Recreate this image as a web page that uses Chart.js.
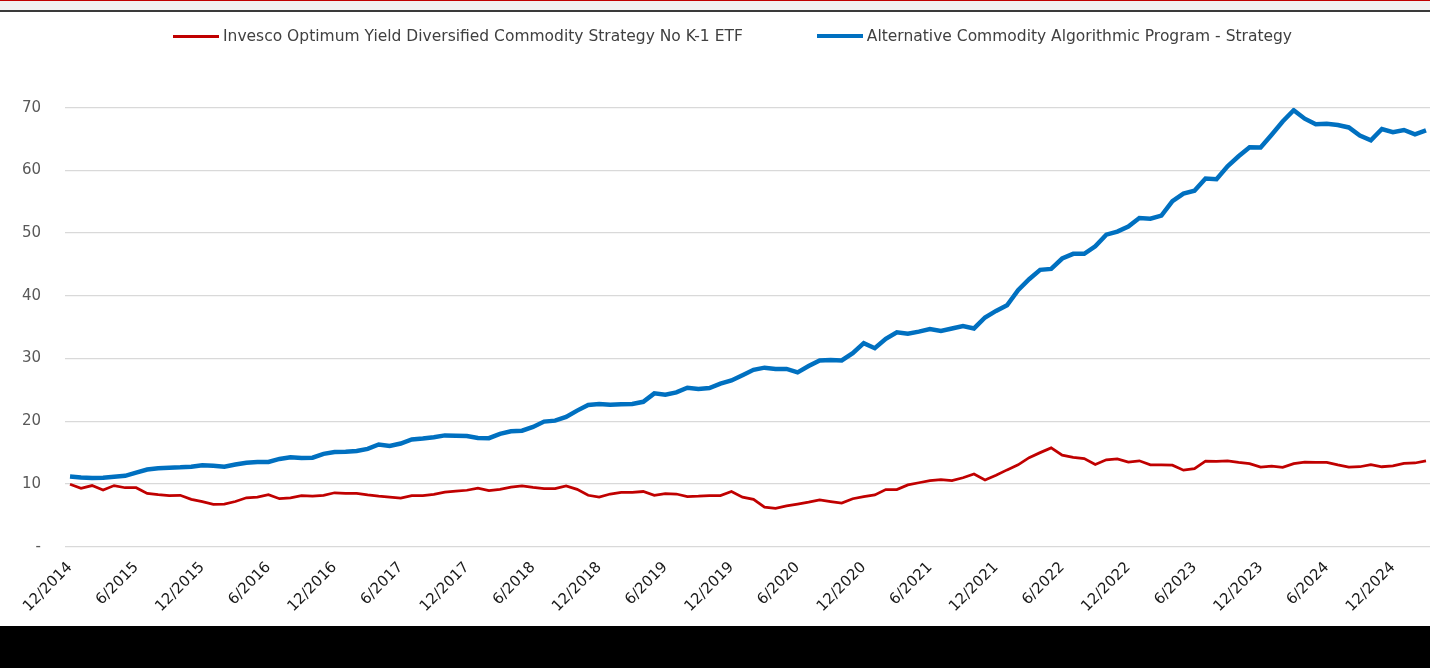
<!DOCTYPE html>
<html>
<head>
<meta charset="utf-8">
<title>Commodity strategy vs ETF</title>
<script src="https://cdn.jsdelivr.net/npm/chart.js@4.4.1/dist/chart.umd.min.js"></script>
<style>
html, body { margin: 0; padding: 0; background: #000; }
#page { position: relative; width: 1430px; height: 626px; background: #fff; overflow: hidden; }
#topbar { position: absolute; left: 0; top: 0; width: 1430px; height: 12px; box-sizing: border-box;
  background: #f0f0f0; border-top: 1px solid #c00000; border-bottom: 2px solid #3a3a3a; z-index: 2; }
#wrap { position: absolute; left: 0; top: 0; width: 1440px; height: 626px; }
#legend { position: absolute; left: 173px; top: 26px; height: 20px; display: flex; align-items: center;
  font: 15.5px "DejaVu Sans", sans-serif; color: #404040; z-index: 2; }
.item { display: flex; align-items: center; margin-right: 74px; white-space: nowrap; }
.swatch { display: inline-block; width: 46px; height: 0; margin-right: 4px; }
</style>
</head>
<body>
<div id="page">
  <div id="topbar"></div>
  <div id="legend"></div>
  <div id="wrap"><canvas id="chart"></canvas></div>
</div>
<script>
// month-end labels, 12/2014 .. 3/2025
var START_YEAR = 2014;
var START_MONTH = 12;
var MONTH_COUNT = 124;
var months = [];
for (var k = 0; k < MONTH_COUNT; k++) {
    var m = (START_MONTH - 1 + k) % 12 + 1;
    var y = START_YEAR + Math.floor((START_MONTH - 1 + k) / 12);
    months.push(m + "/" + y);
}

var etfName = "Invesco Optimum Yield Diversified Commodity Strategy No K-1 ETF";
var strategyName = "Alternative Commodity Algorithmic Program - Strategy";

var etfValues = [
    9.95, 9.3, 9.75, 9.05, 9.75, 9.4, 9.4, 8.5, 8.3, 8.15, 8.2, 7.55,
    7.2, 6.75, 6.8, 7.2, 7.8, 7.9, 8.3, 7.65, 7.8, 8.15, 8.05, 8.2,
    8.6, 8.5, 8.5, 8.25, 8.05, 7.9, 7.75, 8.15, 8.15, 8.35, 8.7, 8.85,
    9.0, 9.35, 8.95, 9.15, 9.5, 9.7, 9.45, 9.25, 9.25, 9.7, 9.15, 8.2,
    7.9, 8.4, 8.65, 8.65, 8.8, 8.2, 8.45, 8.4, 8.0, 8.05, 8.15, 8.15,
    8.8, 7.9, 7.55, 6.3, 6.1, 6.5, 6.8, 7.1, 7.45, 7.2, 6.95, 7.65,
    8.0, 8.25, 9.1, 9.1, 9.85, 10.2, 10.55, 10.7, 10.55, 11.0, 11.6, 10.65,
    11.4, 12.25, 13.05, 14.2, 15.0, 15.75, 14.6, 14.25, 14.05, 13.1, 13.85, 14.0,
    13.5, 13.7, 13.05, 13.05, 13.0, 12.2, 12.45, 13.65, 13.6, 13.7, 13.45, 13.25,
    12.7, 12.85, 12.65, 13.25, 13.5, 13.45, 13.45, 13.05, 12.7, 12.75, 13.1, 12.75,
    12.9, 13.3, 13.35, 13.7
];

var strategyValues = [
    11.2, 11.05, 10.95, 11.0, 11.15, 11.3, 11.8, 12.3, 12.5, 12.6, 12.65, 12.75,
    13.0, 12.9, 12.75, 13.1, 13.4, 13.5, 13.5, 14.0, 14.25, 14.15, 14.2, 14.8,
    15.1, 15.15, 15.25, 15.6, 16.3, 16.05, 16.45, 17.1, 17.25, 17.45, 17.75, 17.7,
    17.65, 17.35, 17.3, 18.0, 18.4, 18.5, 19.1, 19.95, 20.1, 20.7, 21.7, 22.6,
    22.75, 22.65, 22.7, 22.75, 23.1, 24.45, 24.25, 24.6, 25.35, 25.15, 25.3, 26.0,
    26.5, 27.35, 28.2, 28.55, 28.35, 28.35, 27.8, 28.8, 29.7, 29.75, 29.7, 30.85,
    32.45, 31.65, 33.15, 34.2, 33.95, 34.3, 34.7, 34.4, 34.8, 35.2, 34.8, 36.55,
    37.6, 38.5, 40.9, 42.65, 44.15, 44.3, 45.95, 46.7, 46.7, 47.9, 49.75, 50.25,
    51.05, 52.4, 52.3, 52.8, 55.1, 56.3, 56.75, 58.7, 58.6, 60.65, 62.25, 63.7,
    63.65, 65.7, 67.8, 69.6, 68.25, 67.35, 67.45, 67.25, 66.85, 65.55, 64.8, 66.6,
    66.1, 66.45, 65.75, 66.4
];

var Y_MIN = 0;
var Y_MAX = 70;
var Y_STEP = 10;
var LABEL_EVERY = 6;

function buildLegend(chart) {
    var box = document.getElementById("legend");
    box.textContent = "";
    chart.data.datasets.forEach(function (ds) {
        var item = document.createElement("div");
        item.className = "item";
        var sw = document.createElement("span");
        sw.className = "swatch";
        sw.style.borderTop = ds.legendLine + "px solid " + ds.borderColor;
        var txt = document.createElement("span");
        txt.textContent = ds.label;
        item.appendChild(sw);
        item.appendChild(txt);
        box.appendChild(item);
    });
}

var htmlLegend = {
    id: "htmlLegend",
    afterUpdate: function (chart) { buildLegend(chart); }
};

new Chart(document.getElementById("chart"), {
    type: "line",
    data: {
        labels: months,
        datasets: [
            {
                label: etfName,
                data: etfValues,
                borderColor: "#c00000",
                borderWidth: 2.75,
                legendLine: 3,
                pointRadius: 0,
                tension: 0,
                fill: false,
            },
            {
                label: strategyName,
                data: strategyValues,
                borderColor: "#0070c0",
                borderWidth: 4.5,
                legendLine: 4,
                pointRadius: 0,
                tension: 0,
                fill: false,
            },
        ],
    },
    options: {
        responsive: true,
        maintainAspectRatio: false,
        animation: false,
        layout: { padding: { left: 0, right: 8.5, top: 107.7, bottom: 0 } },
        plugins: {
            legend: { display: false },
            tooltip: { enabled: false },
        },
        scales: {
            x: {
                offset: true,
                grid: { display: false, drawTicks: false },
                border: { display: false },
                afterFit: function (scale) {
                    scale.height = 79.3;
                    scale.paddingLeft = 0;
                    scale.paddingRight = 0;
                },
                ticks: {
                    autoSkip: false,
                    minRotation: 45,
                    maxRotation: 45,
                    padding: 12,
                    color: "#1a1a1a",
                    font: { family: "DejaVu Sans", size: 15 },
                    callback: function (val, idx) {
                        return idx % LABEL_EVERY === 0 ? this.getLabelForValue(val) : "";
                    },
                },
            },
            y: {
                min: Y_MIN,
                max: Y_MAX,
                grid: { color: "#d9d9d9", lineWidth: 1.3, drawTicks: false },
                border: { display: false },
                afterFit: function (scale) { scale.width = 64.5; },
                ticks: {
                    stepSize: Y_STEP,
                    padding: 23.5,
                    color: "#595959",
                    font: { family: "DejaVu Sans", size: 15 },
                    callback: function (v) { return v === 0 ? "-" : String(v); },
                },
            },
        },
    },
    plugins: [htmlLegend],
});
</script>
</body>
</html>
